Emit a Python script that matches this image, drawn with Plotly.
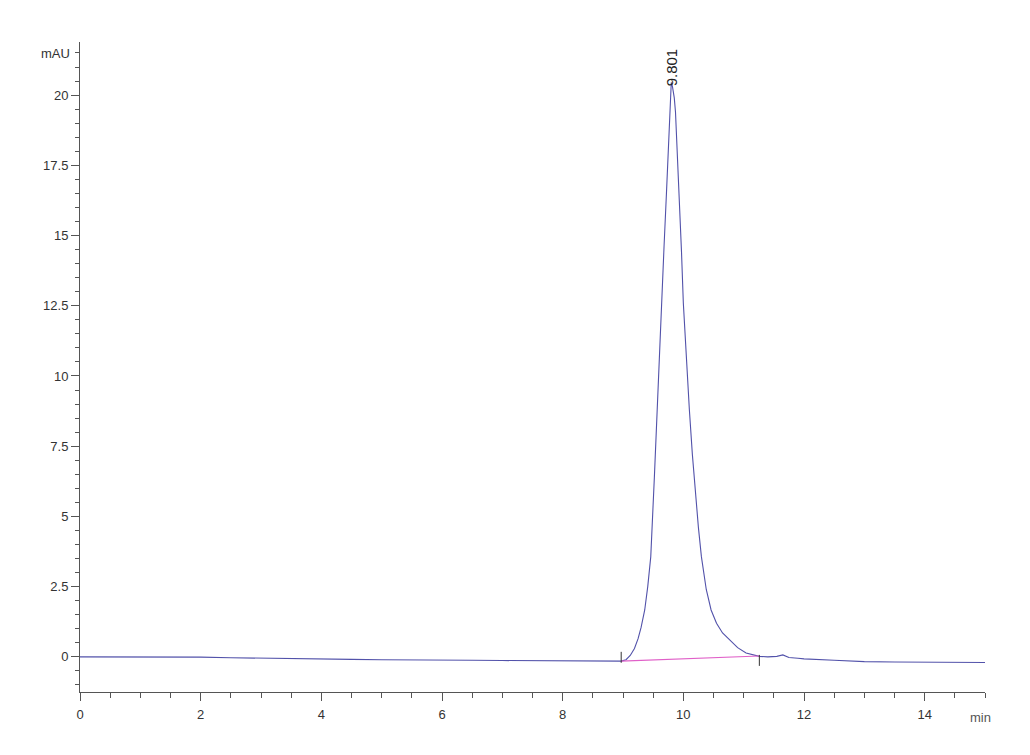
import plotly.graph_objects as go

# Chromatogram signal (min, mAU)
time_min = [0.0, 0.5, 1.0, 1.5, 2.0, 2.5, 3.0, 3.5, 4.0, 4.5, 5.0, 5.5, 6.0, 6.5, 7.0,
            7.5, 8.0, 8.5, 8.97, 9.05, 9.12, 9.19, 9.25, 9.30, 9.36, 9.41, 9.46, 9.52,
            9.58, 9.64, 9.68, 9.72, 9.76, 9.79, 9.80, 9.82, 9.85, 9.87, 9.90, 9.93, 9.97,
            10.0, 10.05, 10.10, 10.15, 10.20, 10.25, 10.30, 10.38, 10.46, 10.55, 10.65,
            10.77, 10.90, 11.04, 11.15, 11.26, 11.40, 11.55, 11.65, 11.75, 11.90, 12.0,
            12.5, 13.0, 13.5, 14.0, 14.5, 15.0]
signal_mau = [0.0, 0.0, -0.01, -0.01, -0.01, -0.03, -0.05, -0.07, -0.08, -0.09, -0.10,
              -0.10, -0.11, -0.12, -0.13, -0.13, -0.14, -0.15, -0.15, -0.10, 0.05, 0.30,
              0.65, 1.05, 1.67, 2.50, 3.56, 6.40, 9.70, 12.70, 14.60, 16.50, 18.50, 20.00,
              20.45, 20.30, 19.90, 19.40, 18.00, 16.50, 14.40, 12.60, 10.60, 8.80, 7.20,
              5.80, 4.60, 3.56, 2.40, 1.67, 1.20, 0.85, 0.60, 0.33, 0.14, 0.07, 0.02,
              0.00, 0.02, 0.07, -0.02, -0.05, -0.07, -0.12, -0.17, -0.18, -0.19, -0.19,
              -0.20]

# Integration baseline
baseline_time = [8.97, 11.26]
baseline_mau = [-0.15, 0.03]

# Peak start / end marks
mark_times = [8.97, 11.26]
mark_low = [-0.21, -0.32]
mark_high = [0.18, 0.07]

peak_rt = 9.801
peak_label = "9.801"

x_ticks = [0, 2, 4, 6, 8, 10, 12, 14]
y_ticks = [0, 2.5, 5, 7.5, 10, 12.5, 15, 17.5, 20]
y_tick_text = ["0", "2.5", "5", "7.5", "10", "12.5", "15", "17.5", "20"]

FONT = "Liberation Sans, Arial"

fig = go.Figure()
fig.add_trace(go.Scatter(x=time_min, y=signal_mau, mode="lines",
                         line=dict(color="#5252aa", width=1.1), showlegend=False))
fig.add_trace(go.Scatter(x=baseline_time, y=baseline_mau, mode="lines",
                         line=dict(color="#e060c8", width=1.1), showlegend=False))
for t, lo, hi in zip(mark_times, mark_low, mark_high):
    fig.add_trace(go.Scatter(x=[t, t], y=[lo, hi], mode="lines",
                             line=dict(color="#333333", width=1), showlegend=False))

fig.add_annotation(x=peak_rt, y=21.0, xref="x", yref="y", text=peak_label,
                   textangle=-90, showarrow=False, xanchor="center", yanchor="middle",
                   font=dict(family=FONT, size=15, color="#222222"))
fig.add_annotation(x=-0.0276, y=0.983, xref="paper", yref="paper", text="mAU",
                   showarrow=False, xanchor="center", yanchor="middle",
                   font=dict(family=FONT, size=13, color="#333333"))
fig.add_annotation(x=0.981, y=-0.0385, xref="paper", yref="paper", text="min",
                   showarrow=False, xanchor="left", yanchor="middle",
                   font=dict(family=FONT, size=13, color="#555555"))

fig.update_layout(
    width=1014, height=739,
    margin=dict(l=72, r=37, t=34, b=55),
    paper_bgcolor="white", plot_bgcolor="white",
    font=dict(family=FONT, size=13, color="#333333"),
    xaxis=dict(range=[0, 15], tickvals=x_ticks, ticks="outside", ticklen=8,
               tickcolor="#555555", showline=True, linecolor="#555555", linewidth=1,
               showgrid=False, zeroline=False, ticklabelstandoff=2,
               minor=dict(dtick=0.5, ticks="outside", ticklen=5, tickcolor="#555555")),
    yaxis=dict(range=[-1.25, 21.89], tickvals=y_ticks, ticktext=y_tick_text,
               ticks="outside", ticklen=8, tickcolor="#555555", showline=True,
               linecolor="#555555", linewidth=1, showgrid=False, zeroline=False,
               minor=dict(dtick=0.5, ticks="outside", ticklen=4, tickcolor="#555555")),
)

fig.write_html("out.html")
